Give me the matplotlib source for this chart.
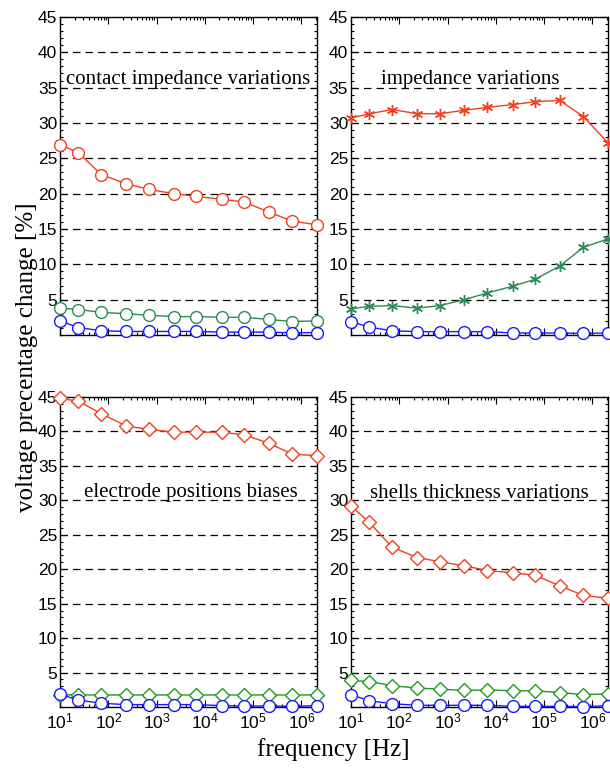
import matplotlib
matplotlib.use("Agg")
import matplotlib.pyplot as plt
from matplotlib.ticker import MultipleLocator, LogLocator, NullFormatter

plt.rcParams['font.family'] = ['Liberation Sans', 'DejaVu Sans']
plt.rcParams['mathtext.fontset'] = 'custom'
plt.rcParams['mathtext.rm'] = 'Liberation Sans'

# frequencies [Hz]
freq = [10, 24, 71, 235, 690, 2240, 6700, 22400, 66000, 210000, 650000, 2.1e6]

# contact impedance variations
ci_red = [26.9, 25.8, 22.7, 21.4, 20.6, 20.0, 19.6, 19.2, 18.8, 17.4, 16.1, 15.6]
ci_green = [3.8, 3.6, 3.2, 3.0, 2.8, 2.6, 2.6, 2.5, 2.5, 2.2, 1.9, 2.0]
ci_blue = [2.0, 1.05, 0.6, 0.5, 0.5, 0.5, 0.5, 0.4, 0.4, 0.4, 0.3, 0.35]

# impedance variations
iv_red = [30.7, 31.3, 31.9, 31.3, 31.3, 31.8, 32.2, 32.6, 33.0, 33.2, 30.9, 27.2]
iv_green = [3.7, 4.05, 4.15, 3.8, 4.15, 5.0, 5.95, 6.9, 7.9, 9.75, 12.4, 13.6]
iv_blue = [1.9, 1.1, 0.6, 0.47, 0.47, 0.47, 0.47, 0.28, 0.28, 0.28, 0.23, 0.28]

# electrode positions biases
ep_red = [44.8, 44.4, 42.6, 40.8, 40.3, 39.9, 39.9, 39.9, 39.5, 38.3, 36.7, 36.5]
ep_green = [1.8, 1.75, 1.75, 1.75, 1.75, 1.75, 1.75, 1.75, 1.75, 1.75, 1.75, 1.75]
ep_blue = [1.85, 1.0, 0.55, 0.35, 0.35, 0.35, 0.35, 0.2, 0.15, 0.15, 0.1, 0.2]

# shells thickness variations
st_red = [29.2, 26.8, 23.2, 21.7, 21.1, 20.5, 19.8, 19.5, 19.1, 17.6, 16.2, 15.8]
st_green = [3.86, 3.7, 3.1, 2.75, 2.6, 2.4, 2.5, 2.35, 2.35, 2.1, 1.8, 1.9]
st_blue = [1.8, 0.9, 0.48, 0.25, 0.25, 0.25, 0.25, 0.1, 0.1, 0.1, 0.05, 0.2]

yticks = [5, 10, 15, 20, 25, 30, 35, 40, 45]

RED = '#f0401e'
SEA = '#2e8b57'
GRN = '#1f9a1f'
BLU = '#1a1aff'

fig = plt.figure(figsize=(6.10, 7.69), dpi=100)

boxes = {
    'tl': [0.0984, 0.5644, 0.4213, 0.4136],
    'tr': [0.5754, 0.5644, 0.4213, 0.4136],
    'bl': [0.0984, 0.0806, 0.4213, 0.4031],
    'br': [0.5754, 0.0806, 0.4213, 0.4031],
}


def setup(ax, label, tx, ty, show_x):
    ax.set_xscale('log')
    ax.set_xlim(freq[0], freq[-1])
    ax.set_ylim(0, 45)
    ax.set_yticks(yticks)
    ax.yaxis.set_minor_locator(MultipleLocator(1))
    ax.xaxis.set_major_locator(LogLocator(base=10, numticks=20))
    ax.xaxis.set_minor_locator(LogLocator(base=10, subs=range(2, 10), numticks=20))
    ax.xaxis.set_minor_formatter(NullFormatter())
    ax.tick_params(which='both', direction='in', top=True, right=True,
                   labelsize=12.5, width=0.8)
    ax.tick_params(which='major', length=5)
    ax.tick_params(which='minor', length=2.5)
    ax.tick_params(axis='y', pad=2)
    if not show_x:
        ax.tick_params(axis='x', labelbottom=False)
    for y in yticks[:-1]:
        ax.axhline(y, color='black', lw=0.9, ls=(0, (6, 4)), zorder=0.5)
    for s in ax.spines.values():
        s.set_linewidth(1.0)
    # x in axes fraction, y in data units
    ax.text(tx, ty, label, transform=ax.get_yaxis_transform(), ha='center',
            va='center', family=['Liberation Serif'], fontsize=15)


def series(ax, vals, color, marker, ms):
    ax.plot(freq, vals, color=color, lw=1.0, marker=marker, ms=ms,
            mfc='white', mec=color, mew=1.0, clip_on=False, zorder=3)


ax = fig.add_axes(boxes['tl'])
setup(ax, 'contact impedance variations', 0.497, 36.2, False)
series(ax, ci_red, RED, 'o', 8.5)
series(ax, ci_green, SEA, 'o', 8.5)
series(ax, ci_blue, BLU, 'o', 8.5)

ax = fig.add_axes(boxes['tr'])
setup(ax, 'impedance variations', 0.465, 36.2, False)
series(ax, iv_red, RED, (6, 2, 0), 8)
series(ax, iv_green, SEA, (6, 2, 0), 8)
series(ax, iv_blue, BLU, 'o', 8.5)

ax = fig.add_axes(boxes['bl'])
setup(ax, 'electrode positions biases', 0.508, 31.2, True)
series(ax, ep_red, RED, 'D', 7.2)
series(ax, ep_green, GRN, 'D', 7.2)
series(ax, ep_blue, BLU, 'o', 8.5)

ax = fig.add_axes(boxes['br'])
setup(ax, 'shells thickness variations', 0.50, 31.0, True)
series(ax, st_red, RED, 'D', 7.2)
series(ax, st_green, GRN, 'D', 7.2)
series(ax, st_blue, BLU, 'o', 8.5)

fig.text(0.044, 0.535, 'voltage precentage change [%]', rotation=90,
         ha='center', va='center', family=['Liberation Serif'], fontsize=18)
fig.text(0.546, 0.025, 'frequency [Hz]', ha='center', va='center',
         family=['Liberation Serif'], fontsize=18)

fig.savefig('out.png', dpi=100)
